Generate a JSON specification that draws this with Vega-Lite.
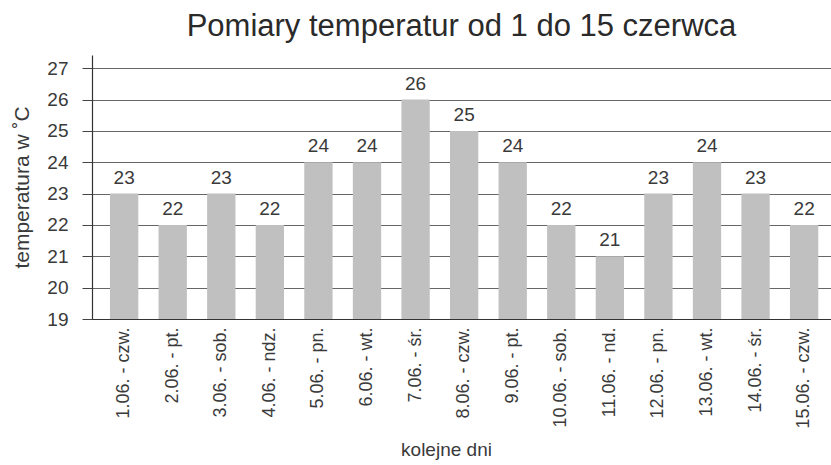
{
  "$schema": "https://vega.github.io/schema/vega-lite/v6.json",
  "width": 739,
  "height": 264,
  "autosize": {"type": "none"},
  "padding": {"left": 92, "top": 55, "right": 0, "bottom": 146},
  "background": "white",
  "config": {
    "font": "Liberation Sans",
    "view": {"stroke": null}
  },
  "title": {
    "text": "Pomiary temperatur od 1 do 15 czerwca",
    "fontSize": 31,
    "fontWeight": "normal",
    "color": "#2a2a2a",
    "anchor": "middle",
    "offset": 12
  },
  "data": {
    "values": [
      {"dzien": "1.06. - czw.", "temp": 23},
      {"dzien": "2.06. - pt.", "temp": 22},
      {"dzien": "3.06. - sob.", "temp": 23},
      {"dzien": "4.06. - ndz.", "temp": 22},
      {"dzien": "5.06. - pn.", "temp": 24},
      {"dzien": "6.06. - wt.", "temp": 24},
      {"dzien": "7.06. - śr.", "temp": 26},
      {"dzien": "8.06. - czw.", "temp": 25},
      {"dzien": "9.06. - pt.", "temp": 24},
      {"dzien": "10.06. - sob.", "temp": 22},
      {"dzien": "11.06. - nd.", "temp": 21},
      {"dzien": "12.06. - pn.", "temp": 23},
      {"dzien": "13.06. - wt.", "temp": 24},
      {"dzien": "14.06. - śr.", "temp": 23},
      {"dzien": "15.06. - czw.", "temp": 22}
    ]
  },
  "encoding": {
    "x": {
      "field": "dzien",
      "type": "nominal",
      "sort": null,
      "scale": {"paddingInner": 0.417, "paddingOuter": 0.316, "align": 0.586},
      "axis": {
        "title": "kolejne dni",
        "titleFontSize": 19,
        "titleFontWeight": "normal",
        "titleColor": "#3a3a3a",
        "titlePadding": 12,
        "titleX": 354,
        "labelAngle": -90,
        "labelFontSize": 18,
        "labelColor": "#3a3a3a",
        "labelPadding": 8,
        "ticks": false,
        "domainColor": "#333",
        "domainWidth": 1.2,
        "grid": false
      }
    },
    "y": {
      "field": "temp",
      "type": "quantitative",
      "scale": {"domain": [19, 27.42], "zero": false, "nice": false},
      "axis": {
        "title": "temperatura w ˚C",
        "titleFontSize": 21,
        "titleFontWeight": "normal",
        "titleColor": "#3a3a3a",
        "titlePadding": 14,
        "values": [19, 20, 21, 22, 23, 24, 25, 26, 27],
        "labelFontSize": 19,
        "labelColor": "#3a3a3a",
        "labelPadding": 14,
        "tickSize": 10,
        "tickColor": "#444",
        "domainColor": "#333",
        "domainWidth": 1.2,
        "grid": true,
        "gridColor": "#666",
        "gridWidth": 1
      }
    }
  },
  "layer": [
    {
      "mark": {"type": "bar", "color": "#c0c0c0"},
      "encoding": {"y2": {"datum": 19}}
    },
    {
      "mark": {"type": "text", "baseline": "bottom", "dy": -6, "fontSize": 19, "color": "#3a3a3a"},
      "encoding": {"text": {"field": "temp", "type": "quantitative"}}
    }
  ]
}
